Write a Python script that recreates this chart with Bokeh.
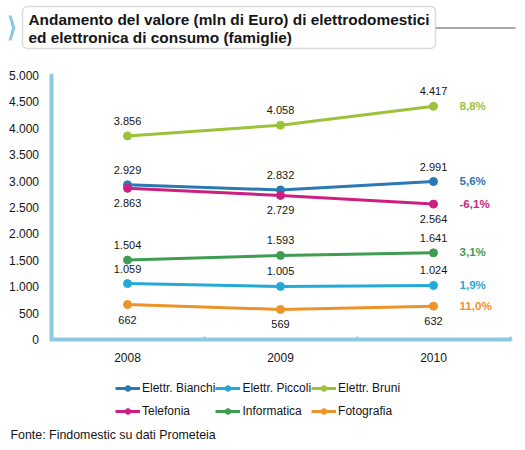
from bokeh.plotting import figure
from bokeh.models import (ColumnDataSource, Range1d, FixedTicker, Legend, LegendItem,
                          Label, BoxAnnotation, PolyAnnotation, LinearAxis)
from bokeh.embed import file_html
from bokeh.resources import INLINE
from bokeh.core.properties import value

years = ["2008", "2009", "2010"]
names = ["Elettr. Bianchi", "Elettr. Piccoli", "Elettr. Bruni",
         "Telefonia", "Informatica", "Fotografia"]
bianchi = [2929, 2832, 2991]
piccoli = [1059, 1005, 1024]
bruni = [3856, 4058, 4417]
telefonia = [2863, 2729, 2564]
informatica = [1504, 1593, 1641]
fotografia = [662, 569, 632]
variazioni = ["5,6%", "1,9%", "8,8%", "-6,1%", "3,1%", "11,0%"]
y_ticks = list(range(0, 5001, 500))
title_lines = ["Andamento del valore (mln di Euro) di elettrodomestici",
               "ed elettronica di consumo (famiglie)"]
fonte = "Fonte: Findomestic su dati Prometeia"

series = [bianchi, piccoli, bruni, telefonia, informatica, fotografia]
colors = ["#2a78b4", "#25aad8", "#9cc23a", "#cc1f82", "#3e9d52", "#ec942a"]
below = [False, False, False, True, False, True]

FONT = "Liberation Sans"
TEXT = "#151515"
ACCENT = "#8dcae2"
GREY = "#8c8c8c"
W, H = 517, 442

# the frame fills the whole canvas; the chart block sits at these pixels
X0, BAND = 50.5, 153.0        # left edge of the first year band, band width
Y0, YSCALE = 339.0, 264.0 / 5000


def fmt(v):
    return f"{v:,}".replace(",", ".")


def sy(y):
    # page y (down) -> screen units (up from the frame bottom)
    return H - y


p = figure(width=W, height=H, output_backend="svg", toolbar_location=None,
           x_range=Range1d(-X0 / BAND, (W - X0) / BAND),
           y_range=Range1d((Y0 - H) / YSCALE, Y0 / YSCALE),
           x_axis_location=None, y_axis_location=None, min_border=0)
p.outline_line_color = None
p.grid.visible = False

xs = [i + 0.5 for i in range(len(years))]
xaxis = LinearAxis(fixed_location=0, bounds=(0, len(years)),
                   ticker=FixedTicker(ticks=xs, minor_ticks=[1, 2, 3]),
                   major_label_overrides={x: y for x, y in zip(xs, years)})
yaxis = LinearAxis(fixed_location=0, bounds=(0, 5000),
                   ticker=FixedTicker(ticks=y_ticks),
                   major_label_overrides={t: fmt(t) for t in y_ticks})
for ax in (xaxis, yaxis):
    ax.axis_line_color = ACCENT
    ax.axis_line_width = 4
    ax.axis_line_cap = "round"
    ax.major_tick_line_color = None
    ax.major_tick_out = 0
    ax.major_tick_in = 0
    ax.major_label_text_font = FONT
    ax.major_label_text_font_size = "12px"
    ax.major_label_text_color = TEXT
    ax.major_label_standoff = 12
xaxis.minor_tick_line_color = ACCENT
xaxis.minor_tick_line_width = 2
xaxis.minor_tick_in = 3
xaxis.minor_tick_out = 0
xaxis.major_label_standoff = 13
yaxis.minor_tick_line_color = None
p.add_layout(xaxis, "below")
p.add_layout(yaxis, "left")

items = []
for name, vals, col, down, var in zip(names, series, colors, below, variazioni):
    src = ColumnDataSource(dict(x=xs, y=vals, lab=[fmt(v) for v in vals]))
    r1 = p.line("x", "y", source=src, color=col, line_width=3)
    r2 = p.scatter("x", "y", source=src, color=col, size=8)
    items.append(LegendItem(label=name, renderers=[r1, r2]))
    p.text("x", "y", text="lab", source=src, text_font=value(FONT),
           text_font_size="11px", text_color=TEXT, text_align="center",
           text_baseline="middle", y_offset=15 if down else -15)
    p.text(x=[xs[-1]], y=[vals[-1]], text=[var], text_font=value(FONT),
           text_font_size="11.6px", text_font_style="bold", text_color=col,
           text_align="left", text_baseline="middle", x_offset=26, y_offset=-1)

p.add_layout(Legend(items=items, ncols=3, orientation="horizontal",
                    location=(115, sy(422)), label_text_font=FONT,
                    label_text_font_size="12px", label_text_color=TEXT,
                    glyph_width=25, glyph_height=14, label_standoff=2,
                    label_height=23, spacing=0, padding=0, margin=0,
                    border_line_color=None, background_fill_alpha=0))

# title block
p.add_layout(PolyAnnotation(xs=[8, 11, 15, 11, 8, 11.5],
                            ys=[sy(15), sy(15), sy(27.5), sy(40), sy(40), sy(27.5)],
                            xs_units="screen", ys_units="screen",
                            fill_color=ACCENT, fill_alpha=1, line_color=None))
p.add_layout(BoxAnnotation(left=435, right=515, top=sy(26.8), bottom=sy(28.3),
                           left_units="screen", right_units="screen",
                           top_units="screen", bottom_units="screen",
                           fill_color=GREY, fill_alpha=1, line_color=None))
p.add_layout(BoxAnnotation(left=22, right=435, top=sy(6), bottom=sy(48),
                           left_units="screen", right_units="screen",
                           top_units="screen", bottom_units="screen",
                           fill_color="white", fill_alpha=1, line_color=GREY,
                           line_width=1.5, border_radius=5))
for ty, line in zip([18.5, 37], title_lines):
    p.add_layout(Label(x=28, y=sy(ty), x_units="screen", y_units="screen",
                       text=line, text_font=FONT, text_font_size="15.4px",
                       text_font_style="bold", text_color=TEXT,
                       text_baseline="middle"))

p.add_layout(Label(x=10, y=sy(434.5), x_units="screen", y_units="screen", text=fonte,
                   text_font=FONT, text_font_size="12.4px", text_color=TEXT,
                   text_baseline="middle"))

open("out.html", "w").write(file_html(p, INLINE))
